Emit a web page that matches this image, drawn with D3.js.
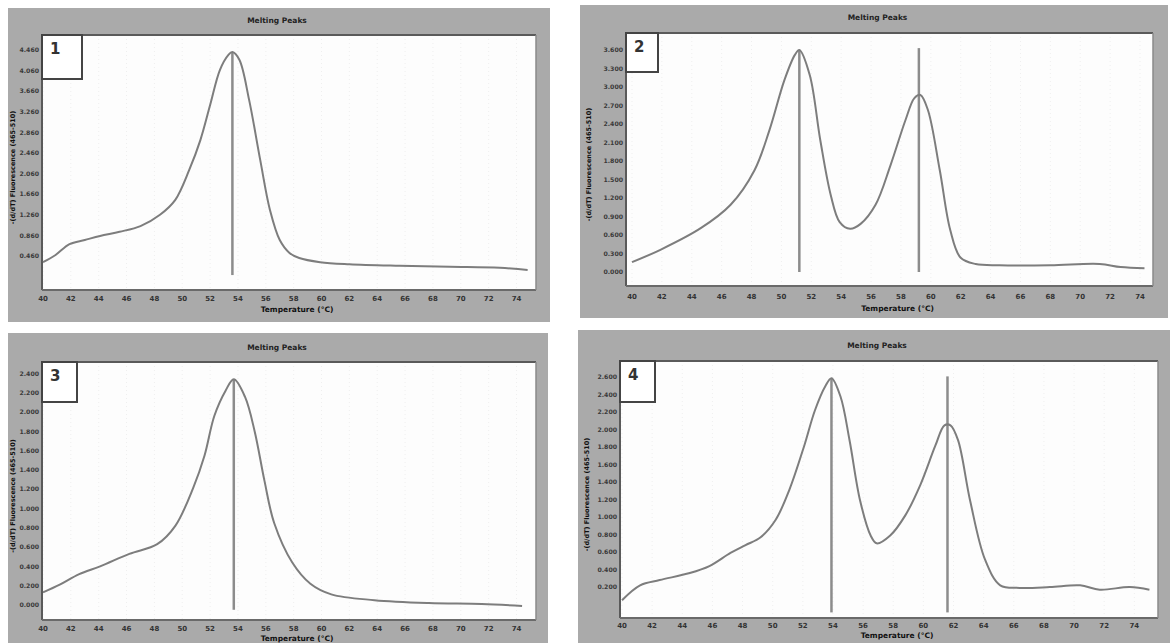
<!DOCTYPE html>
<html>
<head>
<meta charset="utf-8">
<script src="https://cdn.jsdelivr.net/npm/d3@7"></script>
<style>
  body { margin: 0; background: #fff; }
  svg { display: block; }
  text { font-family: "DejaVu Sans", sans-serif; }
</style>
</head>
<body>
<div id="vis"></div>
<script>
// x tick labels shared by all four panels (degrees C)
var xTicks = [40, 42, 44, 46, 48, 50, 52, 54, 56, 58, 60, 62, 64, 66, 68, 70, 72, 74];

// y tick labels of each panel
var yTicks1 = [4.46, 4.06, 3.66, 3.26, 2.86, 2.46, 2.06, 1.66, 1.26, 0.86, 0.46];
var yTicks2 = [3.6, 3.3, 3.0, 2.7, 2.4, 2.1, 1.8, 1.5, 1.2, 0.9, 0.6, 0.3, 0.0];
var yTicks3 = [2.4, 2.2, 2.0, 1.8, 1.6, 1.4, 1.2, 1.0, 0.8, 0.6, 0.4, 0.2, 0.0];
var yTicks4 = [2.6, 2.4, 2.2, 2.0, 1.8, 1.6, 1.4, 1.2, 1.0, 0.8, 0.6, 0.4, 0.2];

// melting peak curves: temperature / -(d/dT) fluorescence
var temp1 = [40.0, 40.9, 41.9, 43.0, 44.1, 45.5, 47.0, 48.4, 49.5, 50.5, 51.3, 52.0, 52.7, 53.3, 53.6, 54.1, 54.8, 55.6, 56.3, 57.0, 57.7, 58.4, 59.9, 62.0, 65.6, 69.2, 72.8, 74.8];
var value1 = [0.34, 0.48, 0.69, 0.77, 0.85, 0.93, 1.04, 1.26, 1.55, 2.13, 2.71, 3.39, 4.07, 4.36, 4.42, 4.27, 3.49, 2.32, 1.35, 0.77, 0.52, 0.42, 0.34, 0.30, 0.27, 0.25, 0.23, 0.19];

var temp2 = [40.0, 41.9, 44.6, 46.6, 48.2, 49.2, 50.2, 50.9, 51.2, 51.9, 52.6, 53.3, 53.9, 54.6, 55.3, 56.3, 57.3, 58.3, 58.9, 59.3, 59.8, 60.6, 61.3, 62.0, 63.0, 64.6, 68.0, 71.3, 72.7, 74.3];
var value2 = [0.16, 0.36, 0.71, 1.09, 1.65, 2.30, 3.11, 3.52, 3.60, 3.19, 2.14, 1.25, 0.81, 0.70, 0.78, 1.09, 1.73, 2.46, 2.82, 2.87, 2.63, 1.65, 0.68, 0.23, 0.13, 0.11, 0.11, 0.13, 0.08, 0.06];

var temp3 = [40.0, 41.2, 42.6, 44.1, 46.2, 48.2, 49.5, 50.8, 51.6, 52.3, 53.1, 53.7, 54.5, 55.2, 55.9, 56.6, 57.9, 59.2, 60.7, 63.8, 67.7, 71.5, 74.4];
var value3 = [0.13, 0.21, 0.32, 0.40, 0.53, 0.63, 0.82, 1.22, 1.55, 1.96, 2.22, 2.34, 2.16, 1.80, 1.29, 0.85, 0.44, 0.22, 0.11, 0.05, 0.02, 0.01, -0.01];

var temp4 = [40.0, 41.2, 42.5, 44.5, 45.8, 47.2, 48.2, 49.2, 50.2, 51.1, 52.1, 52.8, 53.5, 53.9, 54.5, 55.1, 55.8, 56.5, 56.9, 57.8, 58.8, 59.8, 60.8, 61.4, 61.8, 62.3, 63.1, 64.1, 65.1, 66.4, 68.4, 70.4, 71.7, 73.7, 75.0];
var value4 = [0.05, 0.22, 0.28, 0.36, 0.44, 0.59, 0.68, 0.77, 0.97, 1.31, 1.82, 2.22, 2.50, 2.59, 2.38, 1.88, 1.19, 0.79, 0.70, 0.79, 1.02, 1.37, 1.82, 2.05, 2.05, 1.88, 1.19, 0.51, 0.22, 0.19, 0.20, 0.22, 0.17, 0.20, 0.17];

// Tm marker lines: temperature, top value, bottom value
var tm1 = [[53.6, 4.42, 0.09]];
var tm2 = [[51.2, 3.60, 0.0], [59.2, 3.63, 0.0]];
var tm3 = [[53.7, 2.34, -0.05]];
var tm4 = [[53.9, 2.59, -0.09], [61.6, 2.61, -0.09]];

var panelLabels = ["1", "2", "3", "4"];

var width = 1170, height = 643;

var svg = d3.select("#vis")
  .append("svg")
  .attr("width", width)
  .attr("height", height);

// layout of each panel in pixels (box = grey frame, plot = white area)
var panels = [
  { box: [8, 8, 542, 314], plot: [42, 35, 536, 290], x0: 43, xMax: 75.4, yDom: [-0.2, 4.75], title: 23, xlab: 301, xtitle: 312, ylabX: 15,
    ticks: yTicks1, temp: temp1, value: value1, tm: tm1, lab: [42, 35, 40, 44] },
  { box: [580, 5, 588, 313], plot: [626, 33, 1153, 286], x0: 632, xMax: 74.87, yDom: [-0.227, 3.875], title: 20, xlab: 299, xtitle: 311, ylabX: 591,
    ticks: yTicks2, temp: temp2, value: value2, tm: tm2, lab: [626, 33, 32, 39] },
  { box: [8, 333, 540, 320], plot: [42, 362, 536, 620], x0: 43, xMax: 75.4, yDom: [-0.156, 2.52], title: 350, xlab: 631, xtitle: 641, ylabX: 15,
    ticks: yTicks3, temp: temp3, value: value3, tm: tm3, lab: [42, 362, 35, 40] },
  { box: [578, 330, 592, 320], plot: [620, 361, 1158, 618], x0: 622, xMax: 75.57, yDom: [-0.154, 2.786], title: 348, xlab: 628, xtitle: 638, ylabX: 589,
    ticks: yTicks4, temp: temp4, value: value4, tm: tm4, lab: [620, 361, 35, 41] }
];

var fmt = d3.format(".3f");

panels.forEach(function(p, i) {
  var g = svg.append("g");
  var px0 = p.plot[0], py0 = p.plot[1], px1 = p.plot[2], py1 = p.plot[3];

  var x = d3.scaleLinear().domain([40, p.xMax]).range([p.x0, px1]);
  var y = d3.scaleLinear().domain(p.yDom).range([py1, py0]);

  // grey frame
  g.append("rect")
    .attr("x", p.box[0]).attr("y", p.box[1])
    .attr("width", p.box[2]).attr("height", p.box[3])
    .attr("fill", "#aaaaaa");

  // white plot area
  g.append("rect")
    .attr("x", px0).attr("y", py0)
    .attr("width", px1 - px0).attr("height", py1 - py0)
    .attr("fill", "#fdfdfd");

  // faint vertical grid
  g.selectAll(".grid")
    .data(xTicks)
    .enter().append("line")
    .attr("x1", function(d) { return x(d); })
    .attr("x2", function(d) { return x(d); })
    .attr("y1", py0).attr("y2", py1)
    .attr("stroke", "#efefef")
    .attr("stroke-dasharray", "1,3");

  // plot border: dark on top/left, lighter on bottom/right
  g.append("line").attr("x1", px0).attr("x2", px1).attr("y1", py0).attr("y2", py0)
    .attr("stroke", "#5a5a5a").attr("stroke-width", 2);
  g.append("line").attr("x1", px0).attr("x2", px0).attr("y1", py0).attr("y2", py1)
    .attr("stroke", "#5a5a5a").attr("stroke-width", 2);
  g.append("line").attr("x1", px0).attr("x2", px1).attr("y1", py1).attr("y2", py1)
    .attr("stroke", "#6a6a6a").attr("stroke-width", 2);
  g.append("line").attr("x1", px1).attr("x2", px1).attr("y1", py0).attr("y2", py1)
    .attr("stroke", "#8a8a8a").attr("stroke-width", 1.5);

  // title
  g.append("text")
    .attr("x", (px0 + px1) / 2 - 12).attr("y", p.title)
    .attr("text-anchor", "middle")
    .attr("font-size", 7.5).attr("font-weight", "bold").attr("fill", "#222")
    .text("Melting Peaks");

  // x tick labels
  g.selectAll(".xt")
    .data(xTicks)
    .enter().append("text")
    .attr("x", function(d) { return x(d); })
    .attr("y", p.xlab)
    .attr("text-anchor", "middle")
    .attr("font-size", 7).attr("font-weight", "bold").attr("fill", "#333")
    .text(function(d) { return d; });

  // x axis title
  g.append("text")
    .attr("x", (px0 + px1) / 2 + 8).attr("y", p.xtitle)
    .attr("text-anchor", "middle")
    .attr("font-size", 7.5).attr("font-weight", "bold").attr("fill", "#111")
    .text("Temperature (\u00B0C)");

  // y tick labels
  g.selectAll(".yt")
    .data(p.ticks)
    .enter().append("text")
    .attr("x", px0 - 3)
    .attr("y", function(d) { return y(d) + 2.2; })
    .attr("text-anchor", "end")
    .attr("font-family", "DejaVu Sans Condensed, DejaVu Sans, sans-serif")
    .attr("font-size", 6.2).attr("font-weight", "bold").attr("fill", "#3a3a3a")
    .text(function(d) { return fmt(d); });

  // y axis title
  g.append("text")
    .attr("transform", "translate(" + p.ylabX + "," + ((py0 + py1) / 2 + 5) + ") rotate(-90)")
    .attr("text-anchor", "middle")
    .attr("font-size", 6.5).attr("font-weight", "bold").attr("fill", "#111")
    .text("-(d/dT) Fluorescence (465-510)");

  // Tm lines
  g.selectAll(".tm")
    .data(p.tm)
    .enter().append("line")
    .attr("x1", function(d) { return x(d[0]); })
    .attr("x2", function(d) { return x(d[0]); })
    .attr("y1", function(d) { return y(d[1]); })
    .attr("y2", function(d) { return y(d[2]); })
    .attr("stroke", "#8c8c8c")
    .attr("stroke-width", 2.5);

  // melting curve
  var pts = p.temp.map(function(t, k) { return [t, p.value[k]]; });
  var line = d3.line()
    .x(function(d) { return x(d[0]); })
    .y(function(d) { return y(d[1]); })
    .curve(d3.curveCatmullRom.alpha(0.5));

  g.append("path")
    .datum(pts)
    .attr("d", line)
    .attr("fill", "none")
    .attr("stroke", "#7d7d7d")
    .attr("stroke-width", 2);

  // panel number box
  g.append("rect")
    .attr("x", p.lab[0]).attr("y", p.lab[1])
    .attr("width", p.lab[2]).attr("height", p.lab[3])
    .attr("fill", "#fff")
    .attr("stroke", "#444").attr("stroke-width", 2);

  g.append("text")
    .attr("x", p.lab[0] + 8).attr("y", p.lab[1] + 19)
    .attr("font-family", "Liberation Serif, serif")
    .attr("font-size", 15).attr("font-weight", "bold").attr("fill", "#333")
    .text(panelLabels[i]);
});
</script>
</body>
</html>
